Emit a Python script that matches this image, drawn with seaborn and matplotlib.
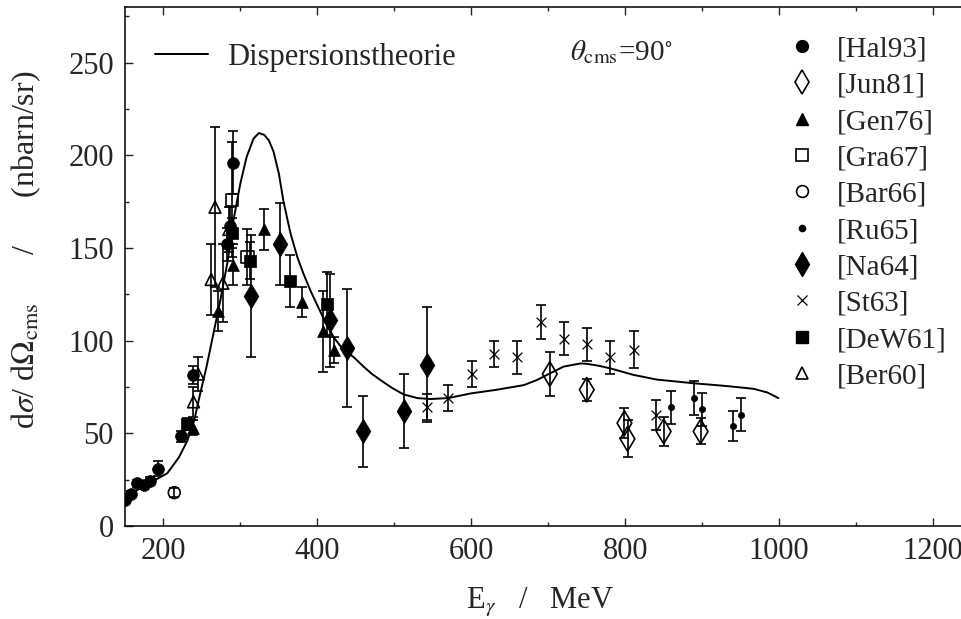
import numpy as np
import pandas as pd
import matplotlib
matplotlib.use("Agg")
import matplotlib.pyplot as plt
from matplotlib.lines import Line2D
from matplotlib.ticker import MultipleLocator
import seaborn as sns

# Dispersion-theory prediction, theta_cms = 90 deg
theory_e = [150, 161, 175, 190, 205, 220, 231, 240, 248, 256, 265, 274, 283, 291,
            300, 308, 317, 324, 331, 337, 343, 350, 356, 365, 374, 382, 391, 400,
            408, 421, 430, 439, 450, 460, 471, 482, 497, 512, 530, 547, 570, 599,
            633, 668, 685, 703, 720, 742, 750, 765, 781, 811, 841, 889, 932, 967,
            985, 999]
theory_v = [14, 18, 22, 25, 28.5, 37, 46, 57, 72, 86, 104, 122, 142, 165,
            185, 199, 209, 212, 211, 208, 202, 190, 175, 158, 145, 136, 127, 119,
            112, 102, 97, 94, 90, 86, 82, 78.7, 74.5, 71, 69, 68.5, 69, 71.5,
            73.5, 76, 78.7, 82.5, 86, 87.7, 87.5, 86.5, 85, 81.5, 79, 77, 75.5, 74,
            72, 69]

# Measurements: photon energy (MeV), cross section (nbarn/sr), error
hal93_e = [150, 158, 166, 175, 182, 193, 223, 238, 283, 287, 290]
hal93_v = [14, 17.5, 23, 22, 24.5, 31, 48.5, 81.5, 152, 162, 196]
hal93_err = [1.5, 1.5, 2, 2, 2, 4, 3, 5, 9, 10, 17]

jun81_e = [702, 750, 799, 803, 850, 898]
jun81_v = [82, 73.5, 55.5, 47, 51, 51]
jun81_err = [12, 6, 8, 10, 8, 7]

gen76_e = [238, 271, 290, 330, 380, 407, 421]
gen76_v = [53, 116, 141, 160, 121, 105, 95]
gen76_err = [4, 11, 11, 11, 8, 22, 7]

gra67_e = [289, 309]
gra67_v = [176, 145]
gra67_err = [31, 15]

bar66_e = [214]
bar66_v = [18]
bar66_err = [2.5]

ru65_e = [860, 890, 900, 940, 950]
ru65_v = [64, 69, 63, 54, 60]
ru65_err = [9, 9, 9, 8, 9]

na64_e = [314, 351, 416, 438, 459, 512, 542]
na64_v = [124, 152, 111, 96, 51, 62, 87]
na64_err = [33, 22, 25, 32, 19, 20, 31]

st63_e = [542, 570, 601, 630, 660, 690, 720, 750, 780, 811, 840]
st63_v = [64, 69, 82, 93, 91, 110, 101, 98, 91, 95, 60]
st63_err = [7, 7, 7, 7, 9, 9, 9, 9, 9, 10, 8]

dew61_e = [231, 289, 313, 364, 413]
dew61_v = [55, 158, 143, 132, 120]
dew61_err = [3, 8, 10, 14, 17]

ber60_e = [239, 245, 262, 267, 277, 285]
ber60_v = [67, 82, 133, 172, 131, 160]
ber60_err = [8, 9, 19, 43, 21, 12]

labels = ["[Hal93]", "[Jun81]", "[Gen76]", "[Gra67]", "[Bar66]",
          "[Ru65]", "[Na64]", "[St63]", "[DeW61]", "[Ber60]"]

series = [
    (hal93_e, hal93_v, hal93_err),
    (jun81_e, jun81_v, jun81_err),
    (gen76_e, gen76_v, gen76_err),
    (gra67_e, gra67_v, gra67_err),
    (bar66_e, bar66_v, bar66_err),
    (ru65_e, ru65_v, ru65_err),
    (na64_e, na64_v, na64_err),
    (st63_e, st63_v, st63_err),
    (dew61_e, dew61_v, dew61_err),
    (ber60_e, ber60_v, ber60_err),
]

# marker, size (pt), filled
styles = {
    "[Hal93]": ("o", 8.5, True),
    "[Jun81]": ("d", 12.5, False),
    "[Gen76]": ("^", 8.5, True),
    "[Gra67]": ("s", 9, False),
    "[Bar66]": ("o", 8.5, False),
    "[Ru65]": ("o", 4.5, True),
    "[Na64]": ("d", 12.5, True),
    "[St63]": ("x", 7, True),
    "[DeW61]": ("s", 9, True),
    "[Ber60]": ("^", 8.5, False),
}

frames = []
for lab, (e, v, err) in zip(labels, series):
    frames.append(pd.DataFrame({"E": e, "v": v, "err": err, "ref": lab}))
data = pd.concat(frames, ignore_index=True)
theory = pd.DataFrame({"E": theory_e, "v": theory_v})

sns.set_theme(style="ticks")
plt.rcParams["font.family"] = ["Liberation Serif", "DejaVu Serif"]
plt.rcParams["mathtext.fontset"] = "stix"
plt.rcParams["axes.linewidth"] = 1.1

fig = plt.figure(figsize=(9.62, 6.19), dpi=100)
ax = fig.add_axes([125 / 962, 93 / 619, 846.5 / 962, 519 / 619])

sns.lineplot(data=theory, x="E", y="v", ax=ax, color="black", lw=1.4,
             sort=False, estimator=None, legend=False)

for lab in labels:
    sub = data[data["ref"] == lab]
    ax.errorbar(sub["E"], sub["v"], yerr=sub["err"], fmt="none",
                ecolor="black", elinewidth=1.2, capsize=3.4, capthick=1.2, zorder=3)

for lab in labels:
    sub = data[data["ref"] == lab]
    m, ms, filled = styles[lab]
    if m == "x":
        sns.scatterplot(data=sub, x="E", y="v", ax=ax, marker="x", s=ms ** 2,
                        color="black", linewidth=0.9, zorder=4, legend=False)
    elif filled:
        sns.scatterplot(data=sub, x="E", y="v", ax=ax, marker=m, s=ms ** 2,
                        color="black", edgecolor="black", linewidth=0.5,
                        zorder=4, legend=False)
    else:
        sns.scatterplot(data=sub, x="E", y="v", ax=ax, marker=m, s=ms ** 2,
                        facecolor="none", edgecolor="black", linewidth=1.2,
                        zorder=4, legend=False)

ax.set_xlim(150, 1250)
ax.set_ylim(0, 280)
ax.xaxis.set_major_locator(MultipleLocator(200))
ax.xaxis.set_minor_locator(MultipleLocator(100))
ax.yaxis.set_minor_locator(MultipleLocator(25))
ax.set_yticks([0, 50, 100, 150, 200, 250])
ax.tick_params(axis="both", which="both", direction="in", top=True, right=False,
               labelsize=22, width=1.0, pad=8)
ax.tick_params(axis="both", which="major", length=6)
ax.tick_params(axis="both", which="minor", length=3)
for s in ["left", "bottom", "top", "right"]:
    ax.spines[s].set_visible(True)
    ax.spines[s].set_color("black")

ax.set_xlabel(r"E$_{\gamma}$   /   MeV", fontsize=22)
ax.xaxis.set_label_coords(0.490, -0.1137)
ax.set_ylabel(r"d$\sigma$/ d$\Omega_{\rm cms}$      /      (nbarn/sr)", fontsize=23)
ax.yaxis.set_label_coords(-0.097, 0.532)

# theory legend (upper left)
theory_handle = [Line2D([], [], color="black", lw=1.4)]
leg1 = ax.legend(theory_handle, ["Dispersionstheorie"], loc="upper left",
                 bbox_to_anchor=(0.021, 0.954), frameon=False, fontsize=22,
                 handlelength=1.73, handletextpad=0.62, borderaxespad=0)
ax.add_artist(leg1)

ax.text(0.5257, 0.913, r"$\theta_{\rm cms}$=90$^{\circ}$", transform=ax.transAxes,
        fontsize=21, ha="left", va="center")

handles = []
for lab in labels:
    m, ms, filled = styles[lab]
    if m == "x":
        h = Line2D([], [], ls="none", marker="x", ms=ms, color="black", mew=0.9)
    elif filled:
        h = Line2D([], [], ls="none", marker=m, ms=ms, color="black")
    else:
        h = Line2D([], [], ls="none", marker=m, ms=ms, mfc="none", mec="black", mew=1.2)
    handles.append(h)
ax.legend(handles, labels, loc="upper left", bbox_to_anchor=(0.7653, 0.9667),
          frameon=False, fontsize=21, labelspacing=0.34, handletextpad=0.6,
          handlelength=1.2, borderaxespad=0)

fig.savefig("out.png", dpi=100)
